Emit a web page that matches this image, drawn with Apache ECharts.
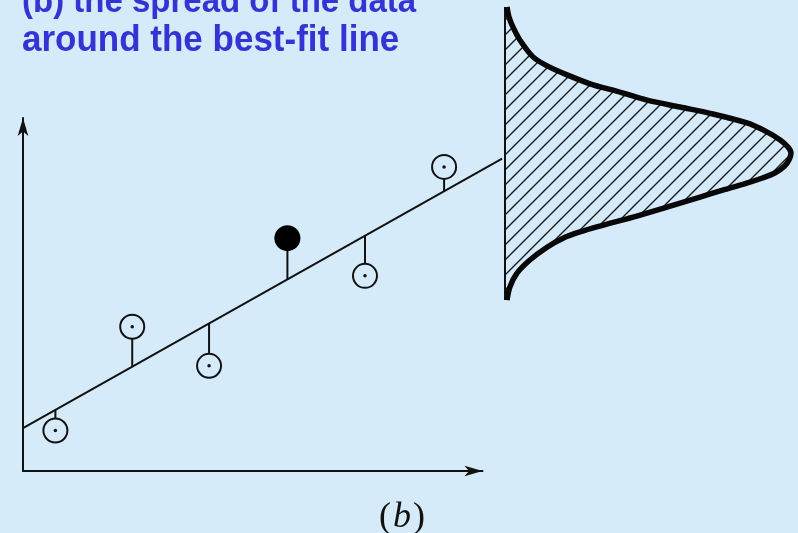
<!DOCTYPE html>
<html>
<head>
<meta charset="utf-8">
<script src="https://cdn.jsdelivr.net/npm/echarts@6/dist/echarts.min.js"></script>
<style>
  html, body { margin: 0; padding: 0; background: #d5ebf9; }
  #chart { width: 798px; height: 533px; }
</style>
</head>
<body>
<div id="chart"></div>
<script>
// Observations: position along x, observed value, and the best-fit value at that x
const obsX = [0.43, 1.45, 2.47, 3.51, 4.54, 5.59];
const obsY = [1.17, 4.17, 3.04, 6.73, 5.64, 8.79];
const fitAtObs = [1.77, 3.02, 4.27, 5.54, 6.80, 8.09];
const highlightIndex = 3;

// Best-fit line end points
const fitLineX = [0, 6.36];
const fitLineY = [1.24, 9.03];

// Spread profile drawn at the end of the line: relative density against value (top to bottom)
const spreadDensity = [0.007, 0.014, 0.028, 0.052, 0.098, 0.147, 0.217, 0.308, 0.378, 0.497, 0.612, 0.727, 0.846, 0.909, 0.962, 0.990, 1.000,
                       0.993, 0.976, 0.945, 0.900, 0.845, 0.770, 0.682, 0.566, 0.448, 0.332, 0.262, 0.203, 0.147, 0.087, 0.042, 0.017, 0.007];
const spreadValue   = [13.41, 13.12, 12.83, 12.46, 11.97, 11.71, 11.45, 11.16, 11.01, 10.72, 10.52, 10.32, 10.06, 9.83, 9.57, 9.36, 9.19,
                       8.99, 8.80, 8.62, 8.47, 8.32, 8.14, 7.92, 7.63, 7.34, 7.08, 6.91, 6.73, 6.47, 6.10, 5.72, 5.32, 4.94];

const titleLines = ['(b) the spread of the data', 'around the best-fit line'];
const panelLetter = 'b';

const BG = '#d5ebf9';
const INK = '#111111';

function hatchPattern(step, width, color) {
  const c = document.createElement('canvas');
  c.width = step; c.height = step;
  const g = c.getContext('2d');
  g.strokeStyle = color;
  g.lineWidth = width;
  g.beginPath();
  g.moveTo(-2, step + 2); g.lineTo(step + 2, -2);
  g.moveTo(-2, 2); g.lineTo(2, -2);
  g.moveTo(step - 2, step + 2); g.lineTo(step + 2, step - 2);
  g.stroke();
  return c;
}

const hatch = hatchPattern(15, 1.4, '#1a1a1a');

const obsData = obsX.map((x, i) => [x, obsY[i], fitAtObs[i]]);
const openPts = obsData.filter((d, i) => i !== highlightIndex).map(d => [d[0], d[1]]);
const filledPts = obsData.filter((d, i) => i === highlightIndex).map(d => [d[0], d[1]]);
const fitSegment = [[fitLineX[0], fitLineY[0], fitLineX[1], fitLineY[1]]];
const spreadData = spreadDensity.map((d, i) => [d, spreadValue[i]]);
const baseLine = [[0, spreadValue[spreadValue.length - 1]], [0, spreadValue[0]]];

const axisArrow = {
  show: true,
  onZero: false,
  symbol: ['none', 'arrow'],
  symbolSize: [8, 18],
  lineStyle: { color: INK, width: 2 }
};

const titleFont = size => 'bold ' + size + 'px "Liberation Sans", Arial, sans-serif';

const chart = echarts.init(document.getElementById('chart'), null, { renderer: 'canvas' });

chart.setOption({
  backgroundColor: BG,
  animation: false,
  grid: [
    { left: 23, top: 118.1, width: 459.5, height: 352.9 },
    { left: 505, top: 7.4, width: 286, height: 294.1 }
  ],
  xAxis: [
    { gridIndex: 0, type: 'value', min: 0, max: 6.1, axisLine: axisArrow,
      axisTick: { show: false }, axisLabel: { show: false }, splitLine: { show: false } },
    { gridIndex: 1, type: 'value', min: 0, max: 1, show: false }
  ],
  yAxis: [
    { gridIndex: 0, type: 'value', min: 0, max: 10.2, axisLine: axisArrow,
      axisTick: { show: false }, axisLabel: { show: false }, splitLine: { show: false } },
    { gridIndex: 1, type: 'value', min: 4.9, max: 13.4, show: false }
  ],
  series: [
    {
      name: 'best fit',
      type: 'custom',
      xAxisIndex: 0, yAxisIndex: 0,
      data: fitSegment,
      renderItem: function (params, api) {
        const p0 = api.coord([api.value(0), api.value(1)]);
        const p1 = api.coord([api.value(2), api.value(3)]);
        return {
          type: 'line',
          shape: { x1: p0[0], y1: p0[1], x2: p1[0], y2: p1[1] },
          style: { stroke: INK, lineWidth: 2 }
        };
      },
      z: 2
    },
    {
      name: 'residuals',
      type: 'custom',
      xAxisIndex: 0, yAxisIndex: 0,
      data: obsData,
      renderItem: function (params, api) {
        const p0 = api.coord([api.value(0), api.value(1)]);
        const p1 = api.coord([api.value(0), api.value(2)]);
        return {
          type: 'line',
          shape: { x1: p0[0], y1: p0[1], x2: p1[0], y2: p1[1] },
          style: { stroke: INK, lineWidth: 2 }
        };
      },
      z: 3
    },
    {
      name: 'observations',
      type: 'scatter',
      xAxisIndex: 0, yAxisIndex: 0,
      data: openPts,
      symbol: 'circle',
      symbolSize: 24,
      itemStyle: { color: BG, borderColor: INK, borderWidth: 2, opacity: 1 },
      z: 4
    },
    {
      name: 'centres',
      type: 'scatter',
      xAxisIndex: 0, yAxisIndex: 0,
      data: openPts,
      symbol: 'circle',
      symbolSize: 3.5,
      itemStyle: { color: INK, opacity: 1 },
      z: 5
    },
    {
      name: 'highlighted',
      type: 'scatter',
      xAxisIndex: 0, yAxisIndex: 0,
      data: filledPts,
      symbol: 'circle',
      symbolSize: 26,
      itemStyle: { color: '#000', opacity: 1 },
      z: 4
    },
    {
      name: 'spread fill',
      type: 'custom',
      xAxisIndex: 1, yAxisIndex: 1,
      data: spreadData,
      renderItem: function (params, api) {
        if (params.dataIndex !== 0) return null;
        const pts = [api.coord(baseLine[1])];
        spreadData.forEach(d => pts.push(api.coord(d)));
        pts.push(api.coord(baseLine[0]));
        return {
          type: 'polygon',
          shape: { points: pts, smooth: 0.3 },
          style: { fill: { image: hatch, repeat: 'repeat' }, stroke: null }
        };
      },
      z: 1
    },
    {
      name: 'spread base',
      type: 'line',
      xAxisIndex: 1, yAxisIndex: 1,
      data: baseLine,
      symbol: 'none',
      clip: false,
      lineStyle: { color: INK, width: 2 },
      z: 2
    },
    {
      name: 'spread curve',
      type: 'line',
      xAxisIndex: 1, yAxisIndex: 1,
      data: spreadData,
      symbol: 'none',
      smooth: 0.3,
      clip: false,
      lineStyle: { color: '#080808', width: 5.5, cap: 'butt', join: 'round' },
      z: 3
    }
  ],
  graphic: [
    {
      type: 'text', x: 22, y: 19.5, scaleY: 1.08, z: 10,
      style: { text: titleLines[0], font: titleFont(33), fill: '#3434d4', textVerticalAlign: 'bottom' }
    },
    {
      type: 'text', x: 22, y: 59.5, scaleY: 1.08, z: 10,
      style: { text: titleLines[1], font: titleFont(35), fill: '#3434d4', textVerticalAlign: 'bottom' }
    },
    {
      type: 'text', x: 402, y: 536, z: 10,
      style: {
        text: '{p|(}{i|' + panelLetter + '}{p|)}',
        textAlign: 'center', textVerticalAlign: 'bottom',
        rich: {
          p: { font: '36px "Liberation Serif", "Times New Roman", serif', fill: '#111' },
          i: { font: 'italic 36px "Liberation Serif", "Times New Roman", serif', fill: '#111', padding: [0, 2, 0, 2] }
        }
      }
    }
  ]
});
</script>
</body>
</html>
